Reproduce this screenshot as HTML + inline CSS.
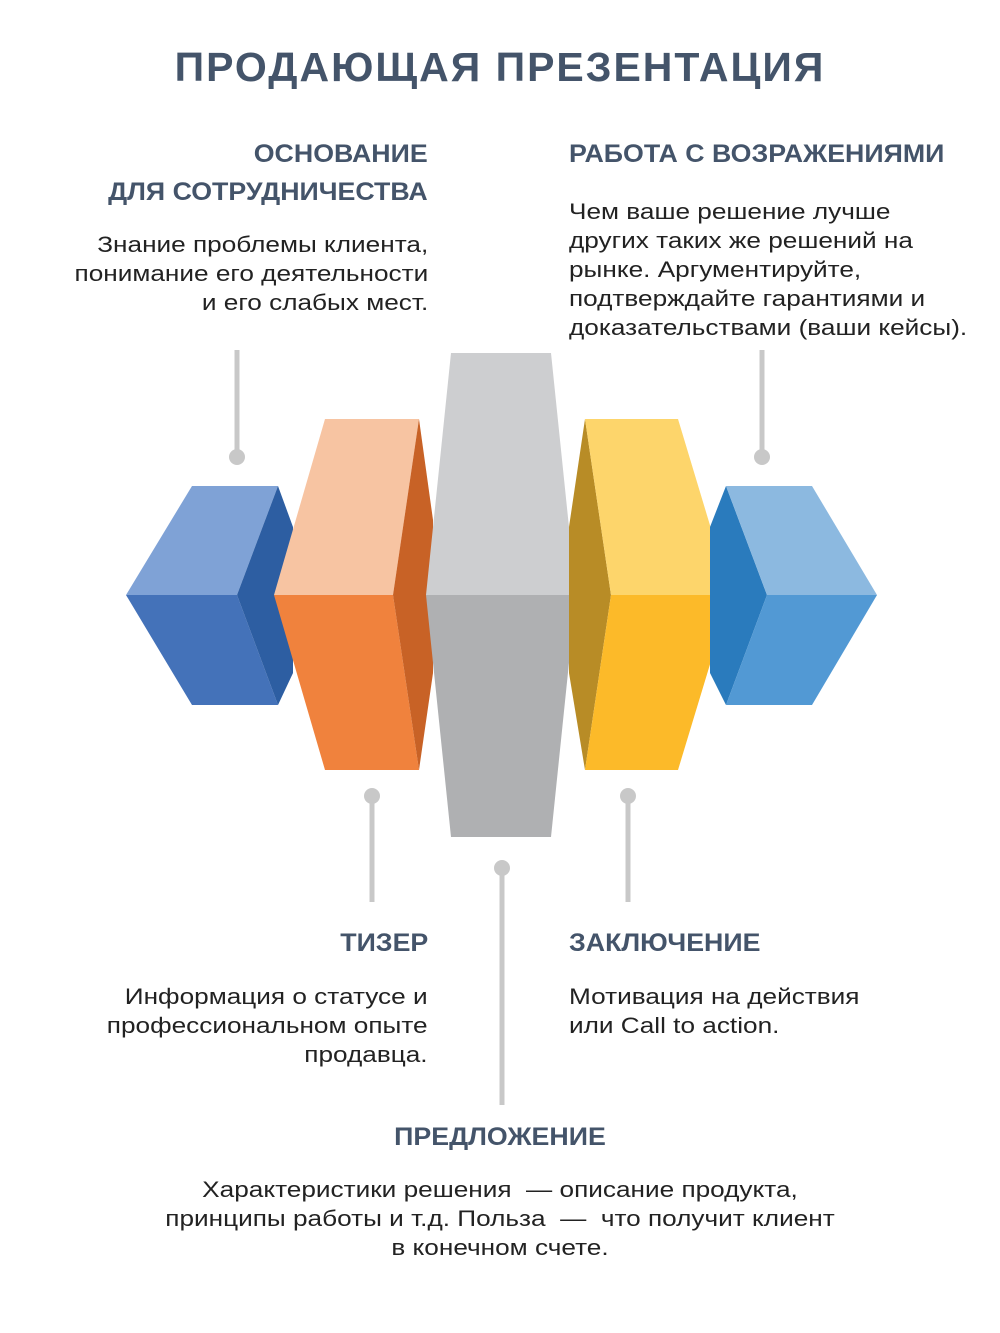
<!DOCTYPE html>
<html><head><meta charset="utf-8"><style>
body{margin:0;width:1000px;height:1333px;background:#fff;position:relative;font-family:"Liberation Sans",sans-serif;overflow:hidden}
.t{position:absolute;white-space:nowrap}
.title{left:0;width:1000px;text-align:center;top:44px;font-size:41px;font-weight:bold;color:#44546a;letter-spacing:2px}
.h{font-size:25px;font-weight:bold;color:#44546a;line-height:38px;transform:scaleX(1.07)}
.b{font-size:22px;color:#222;line-height:29px;transform:scaleX(1.19)}
.r{text-align:right;transform-origin:right top}
.l{transform-origin:left top}
.c{transform-origin:center top}
</style></head><body>
<div class="t title">ПРОДАЮЩАЯ ПРЕЗЕНТАЦИЯ</div>
<div class="t h r" style="right:572px;top:135px">ОСНОВАНИЕ<br>ДЛЯ СОТРУДНИЧЕСТВА</div>
<div class="t b r" style="right:572px;top:230px">Знание проблемы клиента,<br>понимание его деятельности<br>и его слабых мест.</div>
<div class="t h l" style="left:569px;top:135px">РАБОТА С ВОЗРАЖЕНИЯМИ</div>
<div class="t b l" style="left:569px;top:197px">Чем ваше решение лучше<br>других таких же решений на<br>рынке. Аргументируйте,<br>подтверждайте гарантиями и<br>доказательствами (ваши кейсы).</div>
<div class="t h r" style="right:572px;top:924px">ТИЗЕР</div>
<div class="t b r" style="right:572px;top:982px">Информация о статусе и<br>профессиональном опыте<br>продавца.</div>
<div class="t h l" style="left:569px;top:924px">ЗАКЛЮЧЕНИЕ</div>
<div class="t b l" style="left:569px;top:982px">Мотивация на действия<br>или Call to action.</div>
<div class="t h c" style="left:0;width:1000px;text-align:center;top:1118px">ПРЕДЛОЖЕНИЕ</div>
<div class="t b c" style="left:0;width:1000px;text-align:center;top:1175px">Характеристики решения &nbsp;— описание продукта,<br>принципы работы и т.д. Польза &nbsp;— &nbsp;что получит клиент<br>в конечном счете.</div>
<svg width="1000" height="1333" style="position:absolute;left:0;top:0">
<g stroke="#c8c8c8" stroke-width="5" fill="#c8c8c8">
<line x1="237" y1="350" x2="237" y2="455"/><circle cx="237" cy="457" r="8" stroke="none"/>
<line x1="762" y1="350" x2="762" y2="455"/><circle cx="762" cy="457" r="8" stroke="none"/>
<line x1="372" y1="797" x2="372" y2="902"/><circle cx="372" cy="796" r="8" stroke="none"/>
<line x1="628" y1="797" x2="628" y2="902"/><circle cx="628" cy="796" r="8" stroke="none"/>
<line x1="502" y1="868" x2="502" y2="1105"/><circle cx="502" cy="868" r="8" stroke="none"/>
</g>
<polygon points="126,595 192,486 278,486 237,595" fill="#7fa2d6"/>
<polygon points="126,595 237,595 278,705 192,705" fill="#4472b9"/>
<polygon points="237,595 278,486 293,527 293,673 278,705" fill="#2d5ea2"/>
<polygon points="274,595 325,419 419,419 393,595" fill="#f7c4a2"/>
<polygon points="274,595 393,595 419,770 325,770" fill="#f0823d"/>
<polygon points="393,595 419,419 433,520 433,673 419,770" fill="#c86226"/>
<polygon points="451,353 551,353 576,595 426,595" fill="#cdced0"/>
<polygon points="426,595 576,595 551,837 451,837" fill="#afb0b2"/>
<polygon points="585,419 569,527 569,673 585,770 611,595" fill="#b88c26"/>
<polygon points="585,419 678,419 731,595 611,595" fill="#fdd56b"/>
<polygon points="611,595 731,595 678,770 585,770" fill="#fcba29"/>
<polygon points="726,486 710,527 710,673 726,705 767,595" fill="#2a7bbd"/>
<polygon points="726,486 812,486 877,595 767,595" fill="#8cb9e0"/>
<polygon points="767,595 877,595 812,705 726,705" fill="#5299d4"/>
</svg>
</body></html>
